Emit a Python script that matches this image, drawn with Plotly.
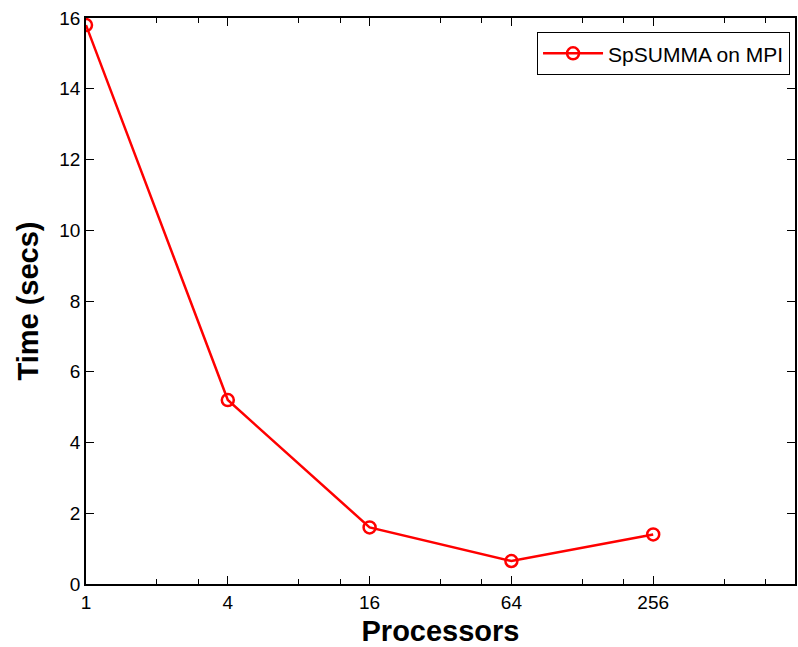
import plotly.graph_objects as go

processors = [1, 4, 16, 64, 256]
times = [15.8, 5.2, 1.6, 0.65, 1.4]
series_name = "SpSUMMA on MPI"
x_tickvals = [1, 4, 16, 64, 256]
x_ticktext = ["1", "4", "16", "64", "256"]
x_minor = [2, 3, 8, 12, 32, 48, 128, 192, 512, 768]
y_tickvals = [0, 2, 4, 6, 8, 10, 12, 14, 16]

FONT = "Liberation Sans, Arial, sans-serif"

fig = go.Figure()
fig.add_trace(go.Scatter(
    x=processors, y=times, name=series_name, mode="lines+markers",
    line=dict(color="#ff0000", width=2.5),
    marker=dict(symbol="circle-open", size=12, color="#ff0000", line=dict(width=2.5, color="#ff0000")),
))

fig.update_layout(
    width=798, height=647,
    margin=dict(l=86, r=1, t=18, b=63),
    paper_bgcolor="white", plot_bgcolor="white",
    font=dict(family=FONT, color="#000000", size=19),
    showlegend=True,
    legend=dict(x=0.993, y=0.975, xanchor="right", yanchor="top",
                bordercolor="#000000", borderwidth=1, bgcolor="white",
                font=dict(size=21, family=FONT), itemwidth=60),
    xaxis=dict(
        type="log", range=[0, 3.0103],
        tickvals=x_tickvals, ticktext=x_ticktext,
        ticks="inside", ticklen=8, tickwidth=1, tickcolor="#000000",
        minor=dict(tickvals=x_minor, ticks="inside", ticklen=5, tickwidth=1, tickcolor="#000000"),
        showline=True, linecolor="#000000", linewidth=1.5, mirror="allticks",
        showgrid=False, zeroline=False,
        tickfont=dict(size=19),
        title=dict(text="<b>Processors</b>", font=dict(size=29), standoff=10),
    ),
    yaxis=dict(
        range=[0, 16], tickvals=y_tickvals,
        ticks="inside", ticklen=8, tickwidth=1, tickcolor="#000000",
        showline=True, linecolor="#000000", linewidth=1.5, mirror="allticks",
        showgrid=False, zeroline=False,
        tickfont=dict(size=19),
        title=dict(text="<b>Time (secs)</b>", font=dict(size=29), standoff=12),
    ),
)

fig.write_html("out.html")
